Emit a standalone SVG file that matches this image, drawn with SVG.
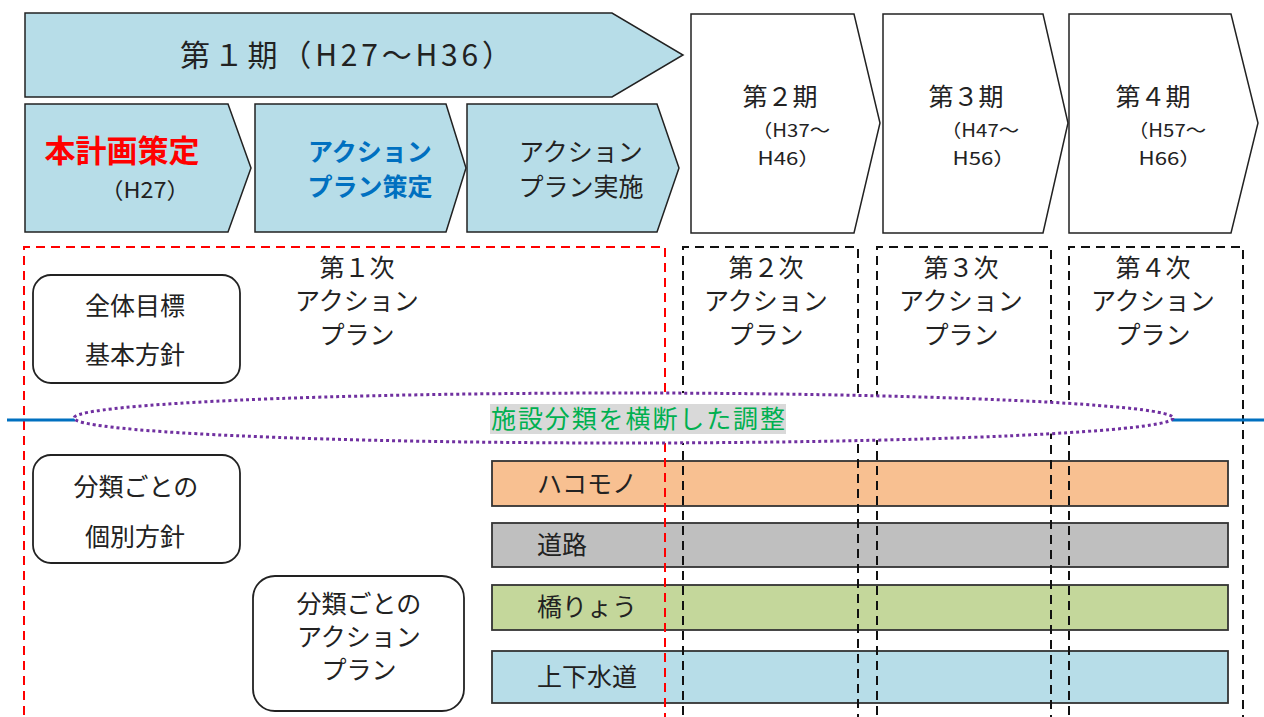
<svg xmlns="http://www.w3.org/2000/svg" width="1264" height="717" viewBox="0 0 1264 717">
<style>
text{font-family:"Noto Sans CJK JP","Noto Sans",sans-serif;fill:#222;text-anchor:middle}
.blue{fill:#B7DDE8;stroke:#222;stroke-width:1.5}
.white{fill:#fff;stroke:#222;stroke-width:1.5}
.rr{fill:#fff;stroke:#222;stroke-width:1.8}
.bar{stroke:#333;stroke-width:1.8}
.red{fill:none;stroke:#FF0000;stroke-width:2;stroke-dasharray:9 6}
.blk{fill:none;stroke:#111;stroke-width:2;stroke-dasharray:9 6}
.f26{font-size:25px}
.f20{font-size:18px}
.st{text-anchor:start}
</style>
<rect width="1264" height="717" fill="#fff"/>

<g id="bars">
  <g id="bar-hakomono"><rect class="bar" x="492" y="461" width="736" height="45" fill="#F8C091"/><text class="f26 st" x="537" y="493">ハコモノ</text></g>
  <g id="bar-road"><rect class="bar" x="492" y="523" width="736" height="44" fill="#BFBFBF"/><text class="f26 st" x="537" y="554">道路</text></g>
  <g id="bar-bridge"><rect class="bar" x="492" y="585" width="736" height="45" fill="#C4D79B"/><text class="f26 st" x="537" y="616">橋りょう</text></g>
  <g id="bar-water"><rect class="bar" x="492" y="651" width="736" height="52" fill="#B7DDE8"/><text class="f26 st" x="537" y="686">上下水道</text></g>
</g>

<g id="plan-frames">
  <path id="frame1" class="red" d="M24,730 V247 H665 V730"/>
  <path id="frame2" class="blk" d="M683,730 V247 H858 V730"/>
  <path id="frame3" class="blk" d="M877,730 V247 H1051 V730"/>
  <path id="frame4" class="blk" d="M1069,730 V247 H1243 V730"/>
</g>

<g id="connectors">
  <line x1="7" y1="420" x2="75" y2="420" stroke="#0070C0" stroke-width="3"/>
  <line x1="1172" y1="420" x2="1264" y2="420" stroke="#0070C0" stroke-width="3"/>
</g>

<g id="cross-adjust">
  <ellipse cx="623.5" cy="418" rx="549.5" ry="25" fill="#fff" stroke="#7030A0" stroke-width="3" stroke-dasharray="3 3"/>
  <rect x="490" y="404" width="296" height="30" fill="#D9D9D9"/>
  <text class="f26" x="638" y="428" style="fill:#00B050" textLength="294" lengthAdjust="spacing">施設分類を横断した調整</text>
</g>

<g id="phase1">
  <polygon class="blue" points="25,13 612,13 683,55 612,97 25,97"/>
  <text x="346" y="66" style="font-size:30px" textLength="332" lengthAdjust="spacing">第１期（H27～H36）</text>
</g>
<g id="step-plan">
  <polygon class="blue" points="25,104 228,104 251,168 228,232 25,232"/>
  <text x="122" y="162" style="font-size:31px;font-weight:700;fill:#FF0000">本計画策定</text>
  <text x="145" y="198" style="font-size:22px" textLength="90" lengthAdjust="spacingAndGlyphs">（H27）</text>
</g>
<g id="step-ap-make">
  <polygon class="blue" points="255,104 446,104 466,168 446,232 255,232"/>
  <text class="f26" x="370" y="161" style="fill:#0070C0;font-weight:700">アクション</text>
  <text class="f26" x="370" y="196" style="fill:#0070C0;font-weight:700">プラン策定</text>
</g>
<g id="step-ap-do">
  <polygon class="blue" points="467,104 657,104 679,168 657,232 467,232"/>
  <text class="f26" x="581" y="161">アクション</text>
  <text class="f26" x="581" y="196">プラン実施</text>
</g>
<g id="phase2">
  <polygon class="white" points="691,14 854,14 880,123 854,233 691,233"/>
  <text class="f26" x="780" y="106">第２期</text>
  <text class="f20" x="791" y="137" textLength="78" lengthAdjust="spacingAndGlyphs">（H37～</text>
  <text class="f20" x="789" y="165" textLength="63" lengthAdjust="spacingAndGlyphs">H46）</text>
</g>
<g id="phase3">
  <polygon class="white" points="883,14 1043,14 1068,123 1043,233 883,233"/>
  <text class="f26" x="966" y="106">第３期</text>
  <text class="f20" x="980" y="137" textLength="78" lengthAdjust="spacingAndGlyphs">（H47～</text>
  <text class="f20" x="984" y="165" textLength="63" lengthAdjust="spacingAndGlyphs">H56）</text>
</g>
<g id="phase4">
  <polygon class="white" points="1069,14 1231,14 1258,123 1231,233 1069,233"/>
  <text class="f26" x="1153" y="106">第４期</text>
  <text class="f20" x="1167" y="137" textLength="78" lengthAdjust="spacingAndGlyphs">（H57～</text>
  <text class="f20" x="1170" y="165" textLength="63" lengthAdjust="spacingAndGlyphs">H66）</text>
</g>

<g id="ap1-label">
  <text class="f26" x="357" y="277">第１次</text>
  <text class="f26" x="357" y="310">アクション</text>
  <text class="f26" x="357" y="344">プラン</text>
</g>
<g id="ap2-label">
  <text class="f26" x="766" y="277">第２次</text>
  <text class="f26" x="766" y="310">アクション</text>
  <text class="f26" x="766" y="344">プラン</text>
</g>
<g id="ap3-label">
  <text class="f26" x="961" y="277">第３次</text>
  <text class="f26" x="961" y="310">アクション</text>
  <text class="f26" x="961" y="344">プラン</text>
</g>
<g id="ap4-label">
  <text class="f26" x="1153" y="277">第４次</text>
  <text class="f26" x="1153" y="310">アクション</text>
  <text class="f26" x="1153" y="344">プラン</text>
</g>

<g id="goal">
  <rect class="rr" x="33" y="275" width="207" height="108" rx="18"/>
  <text class="f26" x="135" y="315">全体目標</text>
  <text class="f26" x="135" y="364">基本方針</text>
</g>
<g id="policy">
  <rect class="rr" x="33" y="455" width="207" height="108" rx="18"/>
  <text class="f26" x="136" y="496">分類ごとの</text>
  <text class="f26" x="135" y="546">個別方針</text>
</g>
<g id="class-ap">
  <rect class="rr" x="253" y="576" width="211" height="135" rx="22"/>
  <text class="f26" x="359" y="613">分類ごとの</text>
  <text class="f26" x="359" y="646">アクション</text>
  <text class="f26" x="359" y="679">プラン</text>
</g>
</svg>
